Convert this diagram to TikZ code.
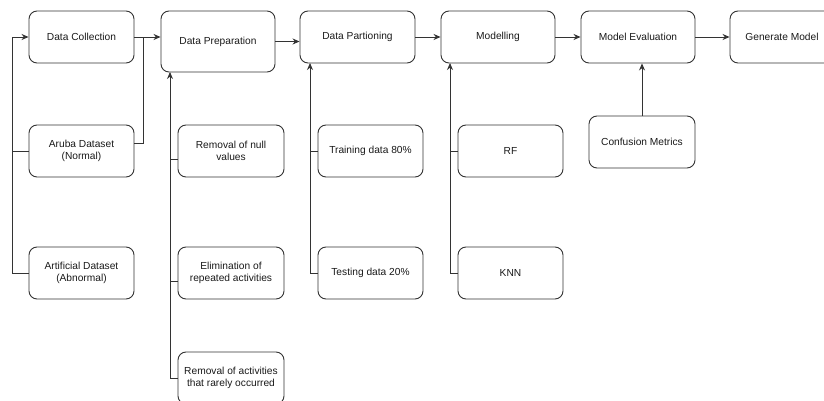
\documentclass[tikz,border=0pt]{standalone}
\usepackage{fontspec}
\setmainfont{Liberation Sans}
\usetikzlibrary{arrows.meta}
\definecolor{ln}{HTML}{333333}
\definecolor{tx}{HTML}{1A1A1A}
\begin{document}
\begin{tikzpicture}[x=1pt,y=-1pt,
  box/.style={draw=ln, line width=0.9pt, rounded corners=8pt, fill=white, text=tx,
    minimum width=105pt, minimum height=52pt, inner sep=1pt, align=center,
    font=\fontsize{10.2}{12.5}\selectfont},
  wide/.style={minimum width=114pt},
  conn/.style={draw=ln, line width=0.9pt},
  arr/.style={conn, -{Stealth[length=7pt,width=6pt]}}]
\useasboundingbox (0,0) rectangle (824,401);
\clip (0,0) rectangle (824,401);
% main row
\node[box] (dc) at (81.5,37) {Data Collection};
\node[box, wide, minimum height=61pt] (prep) at (218,41.5) {Data Preparation};
\node[box, minimum width=115pt] (part) at (357.5,37) {Data Partioning};
\node[box, wide] (model) at (498,37) {Modelling};
\node[box, wide] (eval) at (638,37) {Model Evaluation};
\node[box, minimum width=104pt] (gen) at (782,37) {Generate Model};
% column 1
\node[box] (aruba) at (81.5,151) {Aruba Dataset\\(Normal)};
\node[box] (artif) at (81.5,273) {Artificial Dataset\\(Abnormal)};
% column 2
\node[box, minimum width=106pt] (null) at (231,151) {Removal of null\\values};
\node[box, minimum width=106pt] (elim) at (231,273) {Elimination of\\repeated activities};
\node[box, minimum width=106pt] (rare) at (231,378) {Removal of activities\\that rarely occurred};
% column 3
\node[box] (train) at (370.5,151) {Training data 80\%};
\node[box] (test) at (370.5,273) {Testing data 20\%};
% column 4
\node[box] (rf) at (510.5,151) {RF};
\node[box] (knn) at (510.5,273) {KNN};
% column 5
\node[box, minimum width=106pt] (conf) at (642,142) {Confusion Metrics};
% bus coordinates
\coordinate (b1) at (12,37);
\coordinate (j1) at (143,37);
\coordinate (b2) at (170,72);
\coordinate (b3) at (310,63);
\coordinate (b4) at (450,63);
% left bus into Data Collection
\draw[arr] (artif.west) -- (artif.west -| b1) -- (b1) -- (dc.west);
\draw[conn] (aruba.west) -- (aruba.west -| b1);
% into Data Preparation
\draw[conn] (dc.east) -- (j1);
\draw[arr] ([yshift=8pt]aruba.east) -| (j1) -- (prep.west |- j1);
% main chain
\draw[arr] (prep.east) -- (part.west |- prep.east);
\draw[arr] (part.east) -- (model.west);
\draw[arr] (model.east) -- (eval.west);
\draw[arr] (eval.east) -- (gen.west);
% preparation bus
\draw[arr] (rare.west -| b2) -- (b2);
\draw[conn] (rare.west) -- (rare.west -| b2);
\draw[conn] ([yshift=-8pt]null.west) -- ([yshift=-8pt]null.west -| b2);
\draw[conn] ([yshift=-8pt]elim.west) -- ([yshift=-8pt]elim.west -| b2);
% partitioning bus
\draw[arr] (test.west) -- (test.west -| b3) -- (b3);
\draw[conn] (train.west) -- (train.west -| b3);
% modelling bus
\draw[arr] (knn.west) -- (knn.west -| b4) -- (b4);
\draw[conn] (rf.west) -- (rf.west -| b4);
% evaluation
\draw[arr] (conf.north) -- (conf.north |- eval.south);
\end{tikzpicture}
\end{document}
